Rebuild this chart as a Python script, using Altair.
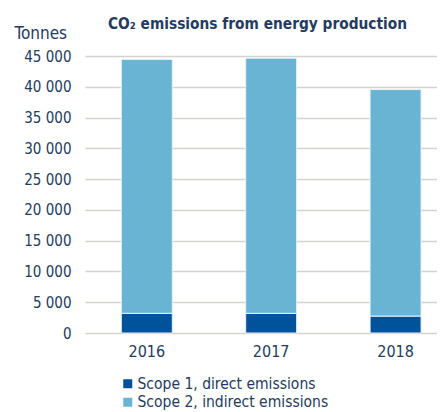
import altair as alt
import pandas as pd

years = ["2016", "2017", "2018"]
scope1 = [3200, 3200, 2750]
scope2_total = [44450, 44650, 39550]
series = ["Scope 1, direct emissions", "Scope 2, indirect emissions"]
colors = ["#00539b", "#6ab4d3"]

rows = []
for y, s1, tot in zip(years, scope1, scope2_total):
    rows.append({"year": y, "series": series[0], "value": s1, "order": 0})
    rows.append({"year": y, "series": series[1], "value": tot - s1, "order": 1})
df = pd.DataFrame(rows)

txt = "#243b5e"
font = "DejaVu Sans Condensed"

chart = alt.Chart(df).mark_bar(stroke="#e8f3f8", strokeWidth=1).encode(
    x=alt.X("year:N", title=None,
            scale=alt.Scale(paddingInner=0.59, paddingOuter=0.21, align=0.695),
            axis=alt.Axis(labelAngle=0, domain=False, ticks=False, labelPadding=10,
                          labelFontSize=16, labelColor=txt, labelFont=font)),
    y=alt.Y("value:Q", stack="zero",
            scale=alt.Scale(domain=[0, 45000], nice=False),
            axis=alt.Axis(title="Tonnes", titleAngle=0, titleAlign="left", titleBaseline="middle",
                          titleX=-71, titleY=-23, titleFont=font, titleFontSize=17,
                          titleFontWeight="normal", titleColor=txt,
                          values=list(range(0, 45001, 5000)),
                          labelExpr="replace(format(datum.value, ',d'), ',', ' ')",
                          domain=False, ticks=False, labelPadding=14,
                          labelFontSize=15, labelColor=txt, labelFont=font,
                          gridColor="#d3d3cf", gridWidth=1.5)),
    color=alt.Color("series:N", scale=alt.Scale(domain=series, range=colors),
                    legend=alt.Legend(title=None, orient="none", legendX=35, legendY=320,
                                      symbolType="square", symbolSize=81, symbolStrokeWidth=0,
                                      labelFontSize=15.5, labelColor=txt, labelFont=font,
                                      labelLimit=400, labelOffset=2, rowPadding=1.5)),
    order=alt.Order("order:Q"),
).properties(
    width=352, height=277,
    title=alt.TitleParams("CO₂ emissions from energy production", fontSize=15.3, font=font,
                          fontWeight="bold", color=txt, anchor="middle", dx=-3.5, offset=-8),
    padding={"left": 6, "top": 8, "right": 0, "bottom": 0},
).configure_view(stroke=None)

chart.save("out.html", embed_options={"renderer": "svg", "actions": False})
